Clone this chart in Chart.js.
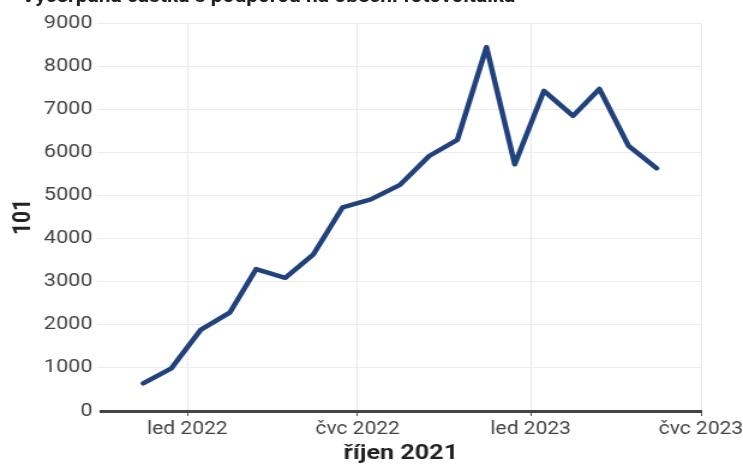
<!DOCTYPE html>
<html>
<head>
<meta charset="utf-8">
<script src="https://cdn.jsdelivr.net/npm/chart.js@4/dist/chart.umd.min.js"></script>
<style>
  html, body { margin: 0; padding: 0; background: #fff; overflow: hidden; }
  #clip { position: relative; width: 743px; height: 466px; overflow: hidden; }
  /* the reference looks horizontally stretched, so draw narrow and stretch */
  #wrap { position: absolute; left: 0; top: 0; width: 619px; height: 466px;
          transform: scaleX(1.2003); transform-origin: 0 0; }
  #title { position: absolute; top: -14.5px; left: 18px; font: bold 17.5px Roboto, sans-serif; color: #222; white-space: nowrap; }
  canvas { position: absolute; left: 0; top: 0; }
</style>
</head>
<body>
<div id="clip"><div id="wrap">
  <div id="title">Vyčerpaná částka s podporou na obecní fotovoltaika</div>
  <canvas id="c" width="619" height="466"></canvas>
</div></div>
<script>
/* ====== DATA ====== */
const months = ["2021-11","2021-12","2022-01","2022-02","2022-03","2022-04","2022-05","2022-06","2022-07","2022-08",
                "2022-09","2022-10","2022-11","2022-12","2023-01","2023-02","2023-03","2023-04","2023-05"];
const values = [640, 990, 1880, 2280, 3290, 3090, 3635, 4725, 4910, 5245,
                5915, 6290, 8440, 5725, 7425, 6845, 7470, 6150, 5630];
const tickDates  = ["2022-01-01","2022-07-01","2023-01-01","2023-07-01"];
const tickLabels = ["led 2022","čvc 2022","led 2023","čvc 2023"];
const axisStart = "2021-10-01";
const axisEnd   = "2023-07-01";
const yTicks = [0,1000,2000,3000,4000,5000,6000,7000,8000,9000];

/* ====== HELPERS ====== */
const DAY = 86400000;
const toDay = (s)=>{
  const [y,m,d] = s.split("-").map(Number);
  return (Date.UTC(y, m-1, d||15) - Date.UTC(2021, 9, 1)) / DAY;
};
const points = months.map((m,i)=>({x: toDay(m), y: values[i]}));
const tickPos = tickDates.map(toDay);

const FONT = "Roboto, sans-serif";

new Chart(document.getElementById("c"), {
  type: "line",
  data: { datasets: [{
    data: points,
    borderColor: "#1f4280",
    borderWidth: 4.5,
    pointRadius: 0,
    tension: 0,
    borderJoinStyle: "round",
    borderCapStyle: "round"
  }]},
  options: {
    responsive: false,
    animation: false,
    layout: { padding: { top: 23, right: 35, bottom: 0, left: 0 } },
    plugins: { legend: { display: false }, tooltip: { enabled: false } },
    scales: {
      x: {
        type: "linear",
        min: toDay(axisStart),
        max: toDay(axisEnd),
        afterBuildTicks: (s)=>{ s.ticks = tickPos.map(v=>({value: v})); },
        afterFit: (s)=>{ s.height = 55; s.paddingLeft = 0; s.paddingRight = 0; },
        ticks: {
          autoSkip: false, maxRotation: 0, padding: 3,
          color: "#444", font: { family: FONT, size: 17.5 },
          callback: (v)=>{ const i = tickPos.indexOf(v); return i >= 0 ? tickLabels[i] : ""; }
        },
        grid: { color: "#e8e8e8", lineWidth: 1, tickLength: 5, tickColor: "#555" },
        border: { display: true, color: "#444", width: 3 },
        title: { display: true, text: "říjen 2021", color: "#222",
                 font: { family: FONT, size: 21, weight: "bold" }, padding: { top: 0, bottom: 0 } }
      },
      y: {
        min: 0, max: 9000,
        afterBuildTicks: (s)=>{ s.ticks = yTicks.map(v=>({value: v})); },
        afterFit: (s)=>{ s.width = 84; },
        ticks: { color: "#444", font: { family: FONT, size: 18 }, padding: 4,
                 callback: (v)=>String(v) },
        grid: { color: "#ececec", lineWidth: 1, tickLength: 3 },
        border: { display: false },
        title: { display: true, text: "101", color: "#222",
                 font: { family: FONT, size: 21, weight: "bold" }, padding: { top: 7, bottom: 0 } }
      }
    }
  }
});
</script>
</body>
</html>
